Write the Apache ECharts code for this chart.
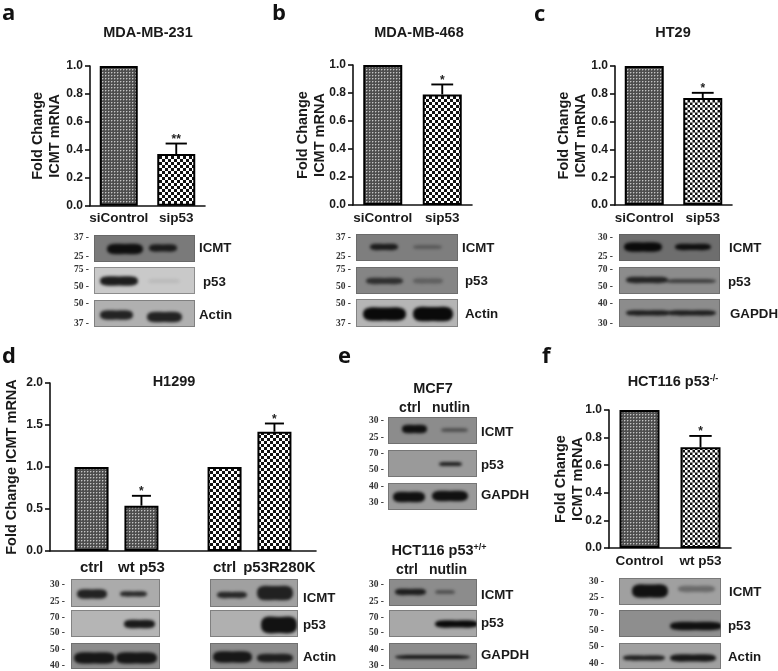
<!DOCTYPE html>
<html><head><meta charset="utf-8">
<style>html,body{margin:0;padding:0;background:#fff}#c{width:778px;height:671px}</style>
<script src="https://cdn.jsdelivr.net/npm/echarts@6/dist/echarts.min.js"></script>
</head><body><div id="c"></div>
<script>
// ---- data ----
const categoriesA = ['siControl','sip53'];
const valuesA = [1.0,0.37];
const upperA = [null,0.445];
const sigA = ['','**'];
const categoriesB = ['siControl','sip53'];
const valuesB = [1.0,0.79];
const upperB = [null,0.861];
const sigB = ['','*'];
const categoriesC = ['siControl','sip53'];
const valuesC = [1.0,0.77];
const upperC = [null,0.807];
const sigC = ['','*'];
const categoriesD = ['','','ctrl','','','wt p53','','','','','ctrl','','','p53R280K','',''];
const valuesD = [null,null,1.0,null,null,0.54,null,null,null,null,1.0,null,null,1.42,null,null];
const upperD = [null,null,null,null,null,0.657,null,null,null,null,null,null,null,1.518,null,null];
const sigD = ['','','','','','*','','','','','','','','*','',''];
const categoriesF = ['Control','wt p53'];
const valuesF = [1.0,0.73];
const upperF = [null,0.812];
const sigF = ['','*'];
const ticks10 = {max:1,interval:0.2};
const ticks20 = {max:2,interval:0.5};

// ---- fills ----
function fine(){const c=document.createElement('canvas');c.width=c.height=3;const x=c.getContext('2d');
  x.fillStyle='#4e4e4e';x.fillRect(0,0,3,3);
  x.fillStyle='#7c7c7c';x.fillRect(1,0,1,1);x.fillRect(0,1,1,1);
  x.fillStyle='#c4c4c4';x.fillRect(0,0,1,1);return c;}
function coarse(p){const c=document.createElement('canvas');c.width=c.height=p*2;const x=c.getContext('2d');
  x.fillStyle='#fff';x.fillRect(0,0,p*2,p*2);x.fillStyle='#111';
  const s=p/2;for(let i=0;i<4;i++)for(let j=0;j<4;j++){if((i+j)%2){x.fillRect(i*s,j*s,s,s);}}
  return c;}
const FINE={image:fine(),repeat:'repeat'};
const COARSE6={image:coarse(6),repeat:'repeat'};
const COARSE5={image:coarse(5),repeat:'repeat'};

const FF='"Liberation Sans",Arial,sans-serif';
const grids=[],xAxes=[],yAxes=[],series=[];
function panel(o){
  const i=grids.length;
  grids.push({left:o.left,top:o.top,width:o.width,height:o.height});
  xAxes.push({type:'category',gridIndex:i,data:o.cats.map(c=>c==='p53R280K'?{value:c,textStyle:{padding:[0,0,0,10]}}:c),boundaryGap:true,
    axisLine:{lineStyle:{color:'#111',width:1.6}},
    axisTick:o.tickIdx?{length:5,lineStyle:{color:'#111',width:1.6},interval:(k)=>o.tickIdx.includes(k)}
      :{alignWithLabel:true,length:5,lineStyle:{color:'#111',width:1.6}},
    axisLabel:{interval:0,margin:o.labelMargin||6,fontFamily:FF,fontWeight:'bold',fontSize:o.xSize||13.5,color:'#1a1a1a'}});
  yAxes.push({type:'value',gridIndex:i,min:0,max:o.ticks.max,interval:o.ticks.interval,
    name:o.yName,nameLocation:'middle',nameRotate:90,nameGap:o.nameGap,nameMoveOverlap:false,
    nameTextStyle:{fontFamily:FF,fontWeight:'bold',fontSize:14.5,color:'#1a1a1a',lineHeight:17},
    axisLine:{show:true,lineStyle:{color:'#111',width:1.6}},
    axisTick:{show:true,length:5,lineStyle:{color:'#111',width:1.6}},
    splitLine:{show:false},
    axisLabel:{margin:7,fontFamily:FF,fontWeight:'bold',fontSize:12,color:'#1a1a1a',formatter:v=>v.toFixed(1)}});
  series.push({type:'bar',xAxisIndex:i,yAxisIndex:i,barWidth:o.barW,silent:true,
    data:o.vals.map((v,k)=>v==null?null:{value:v,itemStyle:{color:o.fills[k],borderColor:'#000',borderWidth:2}})});
  const err=o.vals.map((v,k)=>[k,v,o.upper[k],o.sig[k]]).filter(d=>d[2]!=null);
  series.push({type:'custom',xAxisIndex:i,yAxisIndex:i,silent:true,z:5,clip:false,data:err,encode:{x:0,y:2},
    renderItem(p,api){
      const top=api.coord([api.value(0),api.value(2)]), base=api.coord([api.value(0),api.value(1)]);
      const hw=o.barW*0.28, st={stroke:'#000',lineWidth:1.9};
      return {type:'group',children:[
        {type:'line',shape:{x1:top[0],y1:top[1],x2:base[0],y2:base[1]},style:st},
        {type:'line',shape:{x1:top[0]-hw,y1:top[1],x2:top[0]+hw,y2:top[1]},style:st},
        {type:'text',style:{text:o.sig[api.value(0)],x:top[0],y:top[1]-4,align:'center',verticalAlign:'middle',
          fontFamily:FF,fontWeight:'bold',fontSize:12,fill:'#222'}}
      ]};
    }});
}
const NM2='Fold Change\nICMT mRNA';
panel({left:90,top:66,width:115,height:139.7,cats:categoriesA,vals:valuesA,upper:upperA,sig:sigA,fills:[FINE,COARSE6],ticks:ticks10,yName:NM2,nameGap:26.5,barW:38});
panel({left:353,top:65,width:119,height:140,cats:categoriesB,vals:valuesB,upper:upperB,sig:sigB,fills:[FINE,COARSE6],ticks:ticks10,yName:NM2,nameGap:24.5,barW:39});
panel({left:615,top:66,width:117,height:139,cats:categoriesC,vals:valuesC,upper:upperC,sig:sigC,fills:[FINE,COARSE5],ticks:ticks10,yName:NM2,nameGap:25.5,barW:39});
panel({left:50,top:383,width:266,height:168,cats:categoriesD,vals:valuesD,upper:upperD,sig:sigD,
  fills:valuesD.map((v,k)=>k<8?FINE:COARSE6),ticks:ticks20,yName:'Fold Change ICMT mRNA',nameGap:29.5,barW:34,tickIdx:[4,12],labelMargin:9,xSize:15});
panel({left:609,top:410,width:122,height:138,cats:categoriesF,vals:valuesF,upper:upperF,sig:sigF,fills:[FINE,COARSE5],ticks:ticks10,yName:NM2,nameGap:22.5,barW:40});

// ---- chart titles ----
const titleRich={t:{fontFamily:FF,fontWeight:'bold',fontSize:14.5,color:'#1a1a1a'},s:{fontFamily:FF,fontWeight:'bold',fontSize:9,color:'#1a1a1a',verticalAlign:'top',padding:[0,0,6,0]}};
function ttl(text,cx,cy){return {text,left:cx,top:cy,textAlign:'center',textVerticalAlign:'middle',padding:0,textStyle:{fontFamily:FF,fontWeight:'bold',fontSize:14.5,color:'#1a1a1a',rich:titleRich}};}
const titles=[ttl('MDA-MB-231',148,33),ttl('MDA-MB-468',419,33),ttl('HT29',673,33),ttl('H1299',174,382),
  ttl('{t|HCT116 p53}{s|-/-}',673,382),ttl('MCF7',433,389),ttl('{t|HCT116 p53}{s|+/+}',439,551)];

// ---- western-blot strips ----
const g=[];
function strip(x0,y0,x1,y1,bg,bands){
  const w=x1-x0,h=y1-y0,c=document.createElement('canvas');c.width=w;c.height=h;
  const x=c.getContext('2d');
  x.fillStyle=bg;x.fillRect(0,0,w,h);
  x.filter='blur(1.5px)';
  bands.forEach(b=>{x.fillStyle='rgba(10,10,10,'+b[4]+')';
    const cx=(b[0]+b[1])/2-x0, cy=b[2]-y0, rx=(b[1]-b[0])/2, ry=(b[3]+1)/2;
    x.beginPath();
    x.moveTo(cx-rx,cy);
    x.bezierCurveTo(cx-rx,cy-ry*1.3,cx-rx*0.5,cy-ry*1.05,cx,cy-ry);
    x.bezierCurveTo(cx+rx*0.5,cy-ry*1.05,cx+rx,cy-ry*1.3,cx+rx,cy);
    x.bezierCurveTo(cx+rx,cy+ry*1.3,cx+rx*0.5,cy+ry*1.05,cx,cy+ry);
    x.bezierCurveTo(cx-rx*0.5,cy+ry*1.05,cx-rx,cy+ry*1.3,cx-rx,cy);
    x.fill();});
  x.filter='none';
  x.strokeStyle='rgba(90,90,90,.55)';x.lineWidth=1;x.strokeRect(.5,.5,w-1,h-1);
  g.push({type:'image',silent:true,style:{image:c,x:x0,y:y0,width:w,height:h}});
}
function txt(text,x,y,size,align,family,extra){
  g.push({type:'text',silent:true,style:Object.assign({text,x,y,fontSize:size,fontWeight:'bold',fontFamily:family||FF,fill:'#1a1a1a',align:align||'left',verticalAlign:'middle'},extra||{})});
}
const SER='"Liberation Serif",serif';
function mw(list,right){list.forEach(m=>txt(m[0]+' -',right,m[1],9.5,'right',SER,{fill:'#333'}));}
const LET='"Open Sans","Noto Sans",sans-serif';
[['a',2,14],['b',272,14],['c',534,15],['d',2,357],['e',338,357],['f',542,357]].forEach(l=>txt(l[0],l[1],l[2],22,'left',LET,{fill:'#111'}));
const LB=13.3;
// a
strip(94,235,195,262,'#7a7a7a',[[107,143,249,9,.95],[149,177,248,6,.85]]);
strip(94,267,195,294,'#c9c9c9',[[100,138,281,8,.9],[148,180,281,3,.08]]);
strip(94,300,195,327,'#b0b0b0',[[100,133,315,8,.85],[147,182,317,9,.85]]);
txt('ICMT',199,248,LB);txt('p53',203,282,LB);txt('Actin',199,315,LB);
mw([['37',238],['25',257],['75',270],['50',287],['50',304],['37',324]],89);
// b
strip(356,234,458,261,'#7e7e7e',[[370,398,247,5,.85],[413,442,247,3,.3]]);
strip(356,267,458,294,'#858585',[[366,403,281,5,.7],[413,443,281,4,.3]]);
strip(356,299,458,327,'#b5b5b5',[[363,406,314,12,1],[413,453,314,13,1]]);
txt('ICMT',462,248,LB);txt('p53',465,281,LB);txt('Actin',465,314,LB);
mw([['37',238],['25',257],['75',270],['50',287],['50',304],['37',324]],351);
// c
strip(619,234,720,261,'#6e6e6e',[[624,662,247,8,1],[675,711,247,5,.95]]);
strip(619,267,720,294,'#8c8c8c',[[626,668,280,5,.8],[666,716,281,3,.6]]);
strip(619,299,720,327,'#8c8c8c',[[626,670,313,4,.85],[668,716,313,4,.85]]);
txt('ICMT',729,248,LB);txt('p53',728,282,LB);txt('GAPDH',730,314,LB);
mw([['30',238],['25',257],['70',270],['50',287],['40',304],['30',324]],613);
// d
strip(71,579,160,607,'#ababab',[[77,107,594,8,.85],[120,147,594,4,.8]]);
strip(71,610,160,637,'#b5b5b5',[[124,155,624,7,.9]]);
strip(71,643,160,669,'#8c8c8c',[[74,115,658,10,.9],[116,157,658,10,.9]]);
strip(210,579,298,607,'#a0a0a0',[[217,247,595,5,.8],[257,293,593,13,.85]]);
strip(210,610,298,637,'#b0b0b0',[[261,297,625,15,.95]]);
strip(210,643,298,669,'#8c8c8c',[[213,252,657,10,.9],[257,293,658,7,.85]]);
txt('ICMT',303,598,LB);txt('p53',303,625,LB);txt('Actin',303,657,LB);
mw([['30',585],['25',602],['70',618],['50',633],['50',650],['40',666]],65);
// e top
strip(388,417,477,444,'#8c8c8c',[[402,427,429,7,.95],[441,468,430,3,.45]]);
strip(388,450,477,477,'#9a9a9a',[[439,462,464,3,.85]]);
strip(388,483,477,510,'#9a9a9a',[[393,425,497,9,.95],[432,468,496,9,.95]]);
txt('ICMT',481,432,LB);txt('p53',481,465,LB);txt('GAPDH',481,495,LB);
txt('ctrl',410,408,14,'center');txt('nutlin',451,408,14,'center');
mw([['30',421],['25',438],['70',454],['50',470],['40',487],['30',503]],384);
// e bottom
strip(389,579,477,606,'#8c8c8c',[[395,426,592,5,.85],[435,455,592,3,.45]]);
strip(389,610,477,637,'#a8a8a8',[[435,478,624,6,1]]);
strip(389,643,477,669,'#8c8c8c',[[395,470,657,3,.9]]);
txt('ICMT',481,595,LB);txt('p53',481,623,LB);txt('GAPDH',481,655,LB);
txt('ctrl',407,570,14,'center');txt('nutlin',448,570,14,'center');
mw([['30',585],['25',602],['70',618],['50',633],['40',650],['30',666]],384);
// f
strip(619,578,721,605,'#a0a0a0',[[632,668,591,12,.95],[678,715,589,5,.35]]);
strip(619,610,721,637,'#8e8e8e',[[670,722,626,7,.95]]);
strip(619,643,721,669,'#a0a0a0',[[623,665,658,4,.85],[670,716,658,6,.9]]);
txt('ICMT',729,592,LB);txt('p53',728,626,LB);txt('Actin',728,657,LB);
mw([['30',582],['25',598],['70',614],['50',631],['50',647],['40',664]],604);

const chart=echarts.init(document.getElementById('c'),null,{renderer:'canvas',width:778,height:671});
chart.setOption({animation:false,backgroundColor:'#fff',title:titles,grid:grids,xAxis:xAxes,yAxis:yAxes,series,graphic:{elements:g},tooltip:{show:false}});
</script></body></html>
